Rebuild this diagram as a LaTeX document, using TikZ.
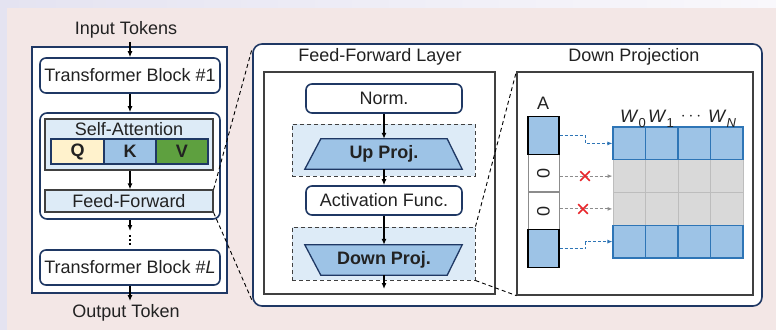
\documentclass[tikz,border=0pt]{standalone}
\usepackage{fontspec}
\setmainfont{Liberation Sans}
\usetikzlibrary{arrows.meta,shapes.misc}

\definecolor{navy}{HTML}{1F3864}
\definecolor{lblue}{HTML}{DDEBF7}
\definecolor{mblue}{HTML}{9DC3E6}
\definecolor{bblue}{HTML}{2E75B6}
\definecolor{qyel}{HTML}{FFF2CC}
\definecolor{vgreen}{HTML}{5EA03F}
\definecolor{gbox}{HTML}{404040}
\definecolor{lgray}{HTML}{D9D9D9}
\definecolor{mgray}{HTML}{BDBDBD}
\definecolor{agray}{HTML}{8C8C8C}
\definecolor{bgpink}{HTML}{F3E7E6}
\definecolor{bglav}{HTML}{E4E3F1}
\definecolor{bgwhite}{HTML}{F9F8FC}
\definecolor{txt}{HTML}{222222}
\definecolor{xred}{HTML}{E8262B}

\newcommand\wlab[1]{\textit{W}\raisebox{-5pt}{\fontsize{13}{13}\selectfont #1}}

\begin{document}
\begin{tikzpicture}[x=1pt,y=-1pt,
  font=\fontsize{18}{20}\selectfont, text=txt,
  sz/.style 2 args={rectangle, inner sep=0pt, minimum width=#1pt, minimum height=#2pt},
  navybox/.style={draw=navy, line width=1.6pt, fill=white},
  graybox/.style={draw=gbox, line width=1.2pt},
  dashbox/.style={draw=gbox, line width=1pt, fill=lblue, dash pattern=on 4pt off 3pt},
  qkvbox/.style={draw=navy, line width=1.4pt, font=\fontsize{18}{20}\selectfont\bfseries},
  trap/.style={draw=navy, line width=1.3pt, fill=mblue},
  arr/.style={-{Latex[length=6pt,width=5pt]}, line width=1.4pt, draw=black},
  zoomline/.style={draw=black, line width=0.9pt, dash pattern=on 4pt off 3pt},
  bcell/.style={sz={32.5}{32.75}, fill=mblue, draw=bblue, line width=1.1pt},
  gcell/.style={sz={32.5}{32.75}, fill=lgray, draw=mgray, line width=1pt},
  acellb/.style={sz={31}{37.5}, fill=mblue, draw=black, line width=1.3pt},
  acellw/.style={sz={31}{37.5}, fill=white, draw=agray, line width=1pt},
  bluearr/.style={-{Latex[length=5pt,width=4pt]}, draw=bblue, line width=1pt, dash pattern=on 3pt off 2pt},
  grayarr/.style={-{Latex[length=5pt,width=4pt]}, draw=agray, line width=1pt, dash pattern=on 3pt off 2pt},
  xmark/.style={cross out, draw=xred, line width=1.6pt, minimum size=8pt, inner sep=0pt}
]
\useasboundingbox (0,0) rectangle (776,330);
% background
\fill[bglav] (0,0) rectangle (776,330);
\shade[left color=bglav, right color=bgwhite] (0,0) rectangle (776,8);
\fill[bgpink] (7,8) rectangle (776,330);

% ---------- left panel ----------
\node[navybox, sz={195}{246}, line width=1.8pt] (left) at (129.5,170) {};
\node (in) at (126,30) {Input Tokens};
\node (out) at (126,313) {Output Token};
\node[navybox, rounded corners=6pt, sz={180}{35}] (tb1) at (130,75.5) {Transformer Block \#1};
\node[navybox, rounded corners=7pt, sz={180}{106}] (grp) at (130,166) {};
\node[graybox, fill=lblue, sz={168}{51}] (sa) at (129,144.5) {};
\node[anchor=base, inner sep=0pt] (satxt) at (129,135) {Self-Attention};
\node[qkvbox, fill=qyel, sz={53}{25}] (q) at (77.5,151.5) {Q};
\node[qkvbox, fill=mblue, sz={52}{25}] (k) at (130,151.5) {K};
\node[qkvbox, fill=vgreen, sz={52}{25}] (v) at (182,151.5) {V};
\node[graybox, fill=lblue, sz={168}{22}] (ff) at (129,201) {Feed-Forward};
\node[navybox, rounded corners=6pt, sz={180}{35}] (tbl) at (130,267.5) {Transformer Block \#\textit{L}};

\coordinate (dotA) at (130,231);
\coordinate (dotS) at (130,235);
\coordinate (dotE) at (130,246);
\draw[arr] (tb1.north |- in.south) -- (tb1.north);
\draw[arr] (tb1.south) -- (grp.north);
\draw[arr] (sa.south -| tb1.south) -- (ff.north -| tb1.south);
\draw[arr] (grp.south) -- (dotA);
\draw[line width=1.5pt, dash pattern=on 2pt off 1.8pt] (dotS) -- (dotE);
\draw[arr] (tbl.south) -- (tbl.south |- out.north);

% ---------- right panel ----------
\node[navybox, rounded corners=9pt, sz={509}{262}] (rp) at (507.5,175) {};
\node[graybox, fill=white, sz={231}{222}] (ffl) at (379.5,183) {};
\node[graybox, fill=white, sz={236}{223}] (dp) at (635,183.5) {};
\node (ffltitle) at (380,57) {Feed-Forward Layer};
\node (dptitle) at (634,57) {Down Projection};

\node[navybox, rounded corners=6pt, sz={156}{29}] (norm) at (384,98.5) {Norm.};
\node[dashbox, sz={183}{52}] (g1) at (383.5,150) {};
\node[sz={126}{30}] (up) at (384,154) {};
\draw[trap] (up.north west) -- (up.north east) -- ([xshift=15pt]up.south east) -- ([xshift=-16pt]up.south west) -- cycle;
\node[font=\fontsize{18}{20}\selectfont\bfseries] (uptxt) at (up) {Up Proj.};
\node[navybox, rounded corners=6pt, sz={156}{29}] (act) at (384,200.5) {Activation Func.};
\node[dashbox, sz={183}{53}] (g2) at (383.5,253.5) {};
\node[sz={126}{30}] (down) at (384,260) {};
\draw[trap] ([xshift=-16pt]down.north west) -- ([xshift=15pt]down.north east) -- (down.south east) -- (down.south west) -- cycle;
\node[font=\fontsize{18}{20}\selectfont\bfseries] (downtxt) at (down) {Down Proj.};
\coordinate (ffout) at (384,289);

\draw[arr] (norm.south) -- (up.north);
\draw[arr] (up.south) -- (act.north);
\draw[arr] (act.south) -- (down.north);
\draw[arr] (down.south) -- (ffout);

% ---------- down projection ----------
\node[anchor=base, inner sep=0pt] (alab) at (543,109) {A};
\node[acellw] (a2) at (543.5,173) {\rotatebox{90}{0}};
\node[acellw] (a3) at (543.5,211) {\rotatebox{90}{0}};
\node[acellb] (a1) at (543.5,135.5) {};
\node[acellb] (a4) at (543.5,248.5) {};

\foreach \r/\yy/\st in {2/176.1/gcell, 3/208.9/gcell, 1/143.4/bcell, 4/241.6/bcell}
  \foreach \c/\xx in {1/629.25, 2/661.75, 3/694.25, 4/726.75}
    \node[\st] (m\r\c) at (\xx,\yy) {};

\node[anchor=base, inner sep=0pt] (w0) at (633,122) {\wlab{0}};
\node[anchor=base, inner sep=0pt] (w1) at (661,122) {\wlab{1}};
\node[inner sep=0pt] (wd) at (691,117) {$\cdots$};
\node[anchor=base, inner sep=0pt] (wn) at (722,122) {\wlab{\textit{N}}};

\draw[bluearr] (a1.east) -- ++(26,0) |- (m11.west);
\draw[bluearr] (a4.east) -- ++(26,0) |- (m41.west);
\draw[grayarr] (a2.east |- m21.west) -- (m21.west);
\draw[grayarr] (a3.east |- m31.west) -- (m31.west);
\node[xmark] (x1) at (585,176.1) {};
\node[xmark] (x2) at (583,208.9) {};

% ---------- zoom lines ----------
\draw[zoomline] (ff.north east) -- ([yshift=-5pt]rp.north west);
\draw[zoomline] (ff.south east) -- ([yshift=6pt]rp.south west);
\draw[zoomline] (g2.north east) -- (dp.north west);
\draw[zoomline] (g2.south east) -- (dp.south west);
\end{tikzpicture}
\end{document}
